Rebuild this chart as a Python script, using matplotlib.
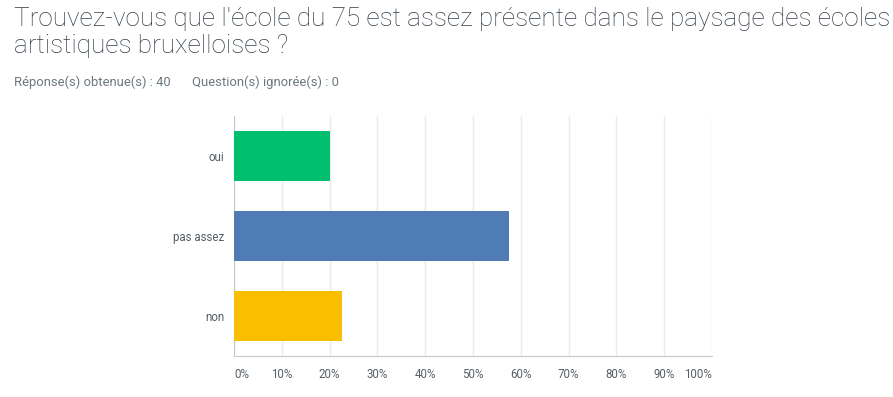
import numpy as np
import matplotlib.pyplot as plt

# survey answers (40 responses)
categories = ['oui', 'pas assez', 'non']
percentages = [20.0, 57.5, 22.5]
bar_colors = ['#00bf6f', '#507cb6', '#f9be00']
tick_values = list(range(0, 101, 10))
tick_labels = [f'{v}%' for v in tick_values]

W, H = 893, 397
fig = plt.figure(figsize=(W / 100, H / 100), dpi=100)
plt.rcParams['font.family'] = ['Roboto', 'DejaVu Sans']

# axes box in pixels: x 234..712, y 116..356
ax = fig.add_axes([234 / W, 1 - 356 / H, (712 - 234) / W, (356 - 116) / H])

y = np.arange(len(categories))
ax.barh(y, percentages, height=0.625, color=bar_colors, zorder=3)
ax.set_ylim(len(categories) - 0.5, -0.5)
ax.set_xlim(0, 100)
ax.set_yticks(y)
ax.set_yticklabels(categories, fontsize=8.3, color='#555f66')
ax.set_xticks(tick_values)
ax.set_xticklabels(tick_labels, fontsize=8.3, color='#555f66')
labels = ax.get_xticklabels()
labels[0].set_horizontalalignment('left')
labels[-1].set_horizontalalignment('right')
ax.tick_params(axis='both', length=0)
ax.tick_params(axis='y', pad=7)
ax.tick_params(axis='x', pad=9)
ax.grid(axis='x', color='#ebebeb', linewidth=1, zorder=0)

for side in ['top', 'right']:
    ax.spines[side].set_visible(False)
ax.spines['left'].set_color('#c8c8c8')
ax.spines['bottom'].set_color('#c8c8c8')

fig.text(14 / W, 1 - 26 / H, "Trouvez-vous que l'école du 75 est assez présente dans le paysage des écoles",
         fontsize=18.85, color='#333e48', fontweight='light', va='baseline')
fig.text(14 / W, 1 - 53 / H, "artistiques bruxelloises ?",
         fontsize=18.85, color='#333e48', fontweight='light', va='baseline')
fig.text(14 / W, 1 - 86 / H, "Réponse(s) obtenue(s) : 40", fontsize=9.4, color='#6b787f', va='baseline')
fig.text(192 / W, 1 - 86 / H, "Question(s) ignorée(s) : 0", fontsize=9.4, color='#6b787f', va='baseline')

fig.savefig('out.png', dpi=100)
